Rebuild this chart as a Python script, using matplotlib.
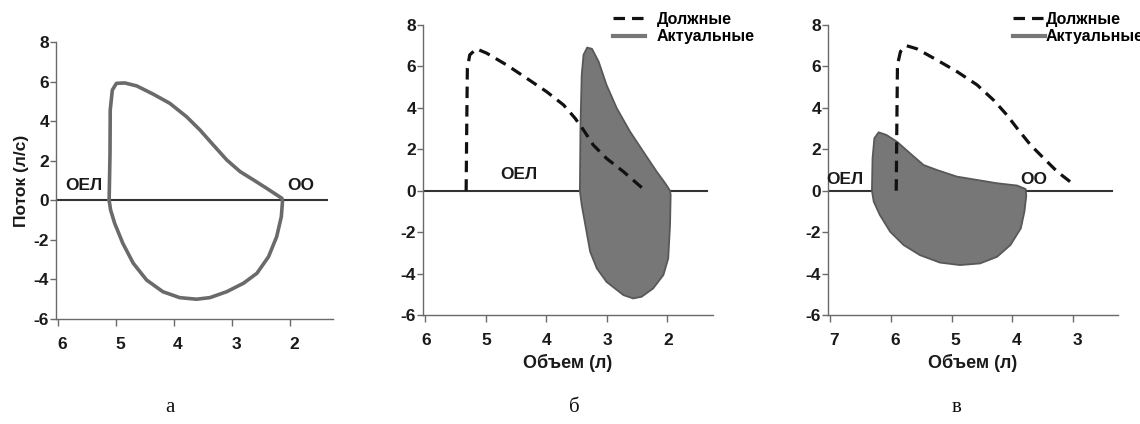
import matplotlib
matplotlib.use("Agg")
import matplotlib.pyplot as plt
from matplotlib.lines import Line2D
from matplotlib.transforms import ScaledTranslation

# ---- panel a: flow-volume loop (healthy) ----------------------------------
a_vol = [5.115, 5.10, 5.096, 5.06, 4.99, 4.845, 4.64, 4.36, 4.07, 3.78,
         3.55, 3.32, 3.09, 2.86, 2.63, 2.40, 2.14,
         2.13, 2.15, 2.23, 2.37, 2.57, 2.80, 3.09, 3.38, 3.61, 3.90, 4.19,
         4.47, 4.70, 4.88, 5.02, 5.09, 5.115]
a_flow = [0.0, 2.37, 4.56, 5.57, 5.91, 5.93, 5.78, 5.37, 4.90, 4.22,
          3.55, 2.79, 2.04, 1.45, 1.03, 0.60, 0.10,
          -0.06, -0.83, -1.84, -2.85, -3.69, -4.19, -4.62, -4.92, -5.0,
          -4.92, -4.62, -4.03, -3.18, -2.17, -1.16, -0.49, 0.0]

# ---- panel b: predicted (dashed) vs actual (filled) ------------------------
b_pred_vol = [5.32, 5.31, 5.30, 5.26, 5.15, 4.98, 4.65, 4.32, 3.99, 3.71,
              3.52, 3.38, 3.22, 3.00, 2.72, 2.37]
b_pred_flow = [0.0, 3.17, 5.91, 6.56, 6.85, 6.64, 6.07, 5.43, 4.78, 4.14,
               3.50, 2.93, 2.21, 1.56, 0.92, 0.03]
b_act_vol = [3.44, 3.43, 3.41, 3.38, 3.32, 3.24, 3.13, 3.00, 2.83, 2.61,
             2.39, 2.17, 2.03, 1.95, 1.94, 1.95, 1.98, 2.06, 2.23, 2.42,
             2.56, 2.72, 3.00, 3.16, 3.27, 3.35, 3.41, 3.44]
b_act_flow = [0.0, 3.17, 5.59, 6.56, 6.91, 6.85, 6.23, 5.11, 3.98, 2.85,
              1.88, 0.92, 0.36, 0.0, -0.21, -1.66, -3.27, -4.07, -4.72,
              -5.12, -5.20, -5.04, -4.40, -3.75, -2.95, -1.66, -0.69, 0.0]

# ---- panel c: predicted (dashed) vs actual (filled) ------------------------
c_pred_vol = [5.91, 5.90, 5.89, 5.84, 5.74, 5.57, 5.24, 4.91, 4.58, 4.31,
              4.09, 3.92, 3.70, 3.48, 3.26, 2.98]
c_pred_flow = [0.0, 3.17, 6.07, 6.72, 7.0, 6.85, 6.31, 5.75, 5.11, 4.38,
               3.66, 3.01, 2.21, 1.56, 0.92, 0.28]
c_act_vol = [6.31, 6.30, 6.27, 6.20, 6.07, 5.90, 5.68, 5.46, 5.24, 4.91,
             4.58, 4.25, 3.92, 3.78, 3.77, 3.80, 3.86, 4.03, 4.25, 4.53,
             4.86, 5.19, 5.52, 5.79, 6.01, 6.18, 6.28, 6.31]
c_act_flow = [0.0, 1.56, 2.53, 2.82, 2.69, 2.37, 1.80, 1.24, 1.0, 0.68,
              0.52, 0.36, 0.25, 0.08, -0.24, -1.01, -1.82, -2.62, -3.19,
              -3.51, -3.59, -3.47, -3.11, -2.62, -1.98, -1.17, -0.53, 0.0]

yticks = [-6, -4, -2, 0, 2, 4, 6, 8]
a_xticks = [6, 5, 4, 3, 2]
b_xticks = [6, 5, 4, 3, 2]
c_xticks = [7, 6, 5, 4, 3]

SANS = ["Liberation Sans", "Arial", "DejaVu Sans"]
SERIF = ["Liberation Serif", "DejaVu Serif"]
SPINE = "#6a6a6a"
FILL = "#777777"
EDGE = "#585858"
INK = "#1a1a1a"

plt.rcParams.update({
    "font.family": SANS,
    "font.weight": "bold",
    "axes.unicode_minus": False,
    "axes.linewidth": 1.0,
    "axes.edgecolor": SPINE,
    "xtick.color": SPINE, "ytick.color": SPINE,
    "xtick.labelcolor": INK, "ytick.labelcolor": INK,
})

W, H = 1140, 424
fig = plt.figure(figsize=(W / 100, H / 100), dpi=100)
fig.patch.set_facecolor("white")


def px_axes(left, top, right, bottom):
    return fig.add_axes([left / W, 1 - bottom / H, (right - left) / W,
                         (bottom - top) / H])


def style(ax, xlim, xticks, xlabel=None, shift=4):
    ax.set_xlim(*xlim)
    ax.set_ylim(-6, 8)
    ax.set_yticks(yticks)
    ax.set_xticks(xticks)
    for s in ("top", "right"):
        ax.spines[s].set_visible(False)
    ax.tick_params(axis="y", length=4, width=1, pad=1, labelsize=12.5)
    ax.tick_params(axis="x", length=5, width=1, pad=8, labelsize=12.5)
    off = ScaledTranslation(shift / 100, 0, fig.dpi_scale_trans)
    for lbl in ax.get_xticklabels():
        lbl.set_transform(lbl.get_transform() + off)
        lbl.set_fontweight("bold")
    for lbl in ax.get_yticklabels():
        lbl.set_fontweight("bold")
    ax.axhline(0, xmax=0.98, color="#333333", lw=1.5, zorder=1)
    if xlabel:
        ax.set_xlabel(xlabel, fontsize=13, fontweight="bold", labelpad=4,
                      color=INK)


def tag(ax, x, y, s):
    ax.text(x, y, s, fontsize=12.5, fontweight="bold", ha="center",
            va="center", color=INK, zorder=5)


# ---- a ---------------------------------------------------------------------
axA = px_axes(56, 42, 333, 319)
style(axA, (6.03, 1.26), a_xticks)
axA.plot(a_vol, a_flow, color="#6a6a6a", lw=2.6, solid_joinstyle="round",
         solid_capstyle="round", zorder=3)
axA.set_ylabel("Поток (л/с)", fontsize=12.5, fontweight="bold", labelpad=3,
               color=INK)
tag(axA, 5.55, 0.76, "ОЕЛ")
tag(axA, 1.81, 0.76, "ОО")

# ---- b ---------------------------------------------------------------------
axB = px_axes(423, 25, 713, 315)
style(axB, (6.033, 1.24), b_xticks, "Объем (л)", shift=1)
axB.fill(b_act_vol, b_act_flow, facecolor=FILL, edgecolor=EDGE, lw=1.3,
         joinstyle="round", zorder=2)
axB.plot(b_pred_vol, b_pred_flow, color="#111111", lw=2.3, dashes=(3.6, 2.2),
         zorder=4)
tag(axB, 4.45, 0.8, "ОЕЛ")

# ---- c ---------------------------------------------------------------------
axC = px_axes(828, 25, 1118, 315)
style(axC, (7.033, 2.26), c_xticks, "Объем (л)")
axC.fill(c_act_vol, c_act_flow, facecolor=FILL, edgecolor=EDGE, lw=1.3,
         joinstyle="round", zorder=2)
axC.plot(c_pred_vol, c_pred_flow, color="#111111", lw=2.3, dashes=(3.6, 2.2),
         zorder=4)
tag(axC, 6.75, 0.52, "ОЕЛ")
tag(axC, 3.65, 0.52, "ОО")

# ---- legends ---------------------------------------------------------------
handles = [Line2D([], [], color="#111111", lw=2.3, dashes=(3.6, 2.2)),
           Line2D([], [], color="#777777", lw=3.0)]
labels = ["Должные", "Актуальные"]
for ax, x0, pad in ((axB, 613, 0.75), (axC, 1013, 0.05)):
    ax.legend(handles, labels, loc="upper left",
              bbox_to_anchor=(x0 / W, 1 - 12 / H),
              bbox_transform=fig.transFigure, frameon=False, borderpad=0,
              borderaxespad=0, handlelength=2.0, handletextpad=pad,
              labelspacing=0.15, prop={"size": 11.5, "weight": "bold"})

# ---- panel captions --------------------------------------------------------
for x, s in ((170, "а"), (574, "б"), (957, "в")):
    fig.text(x / W, 1 - 407 / H, s, family=SERIF, fontsize=15,
             fontweight="normal", ha="center", va="center", color="#111111")

fig.savefig("out.png", dpi=100, facecolor="white")
